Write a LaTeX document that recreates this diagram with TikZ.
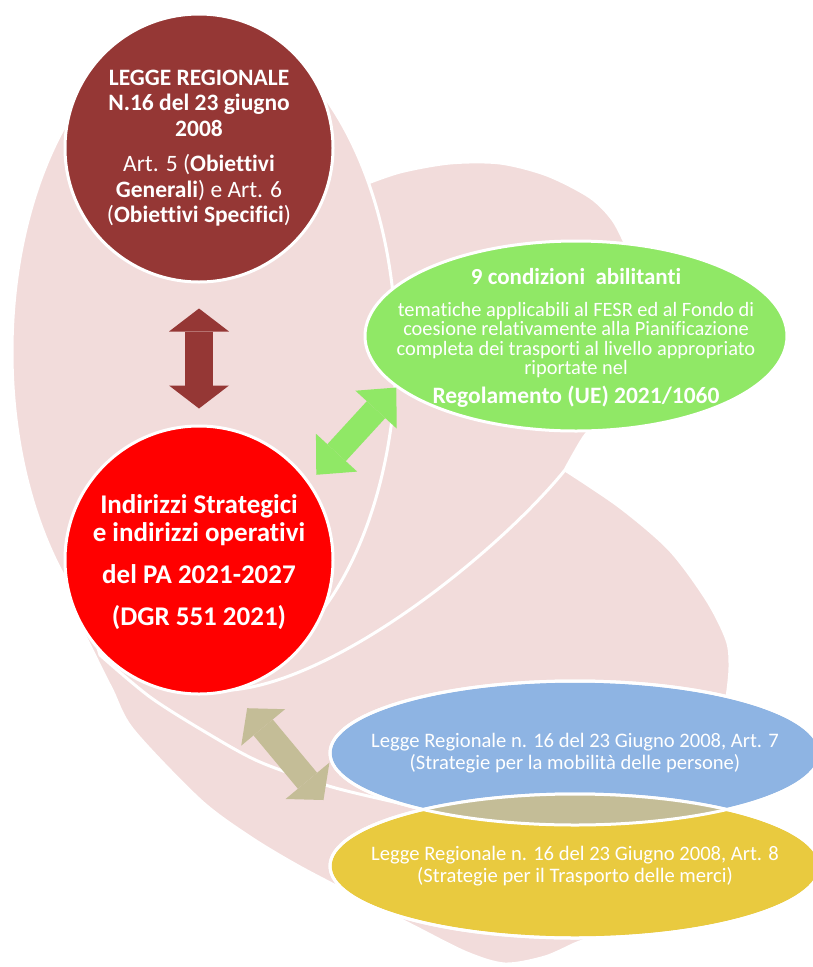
\documentclass[tikz,border=0pt]{standalone}
\usepackage{fontspec}
\setmainfont{Carlito}[Ligatures={NoCommon}]
\usetikzlibrary{arrows.meta}
\usetikzlibrary{shapes}
\usetikzlibrary{calc}

\definecolor{rosa}{HTML}{F2DCDB}
\definecolor{bordeaux}{HTML}{953735}
\definecolor{rosso}{HTML}{FF0000}
\definecolor{verde}{HTML}{90E866}
\definecolor{azzurro}{HTML}{8EB4E3}
\definecolor{giallo}{HTML}{E9CA3F}
\definecolor{sabbia}{HTML}{C4BD97}

\begin{document}
\begin{tikzpicture}[x=1pt,y=-1pt,
  petalo/.style={fill=rosa,draw=white,line width=3pt,line join=round},
  tondo/.style={circle,minimum size=268pt,inner sep=0pt,draw=white,line width=3pt},
  ovale/.style={ellipse,inner sep=0pt,draw=white,line width=3pt},
  legge/.style={ovale,minimum width=490pt,minimum height=144pt},
  testo/.style={text=white,align=center,inner sep=0pt},
  frecciarossa/.style={draw=bordeaux,line width=28pt,{Triangle[width=60pt,length=23pt,line width=0pt]}-{Triangle[width=60pt,length=23pt,line width=0pt]}},
  frecciaverde/.style={draw=verde,line width=25pt,{Triangle[width=56pt,length=30pt,line width=0pt]}-{Triangle[width=56pt,length=30pt,line width=0pt]}},
  frecciasabbia/.style={draw=sabbia,line width=25pt,{Triangle[width=57pt,length=25pt,line width=0pt]}-{Triangle[width=57pt,length=25pt,line width=0pt]}}]
\fill[white] (0,0) rectangle (813,967);
\useasboundingbox (0,0) rectangle (813,967);

\filldraw[petalo] plot[smooth] coordinates {(565,470) (620,507) (670,550) (707,600) (727,640) (730,667) (727,697) (722,720)}
  -- (700,805) -- (620,860) -- (480,872) -- (400,848) -- (330,812) -- (200,762) -- (130,712) -- (105,668)
  -- (125,625) -- (330,560) -- (420,520) -- (520,488) -- cycle;
\filldraw[petalo] plot[smooth] coordinates {(100,655) (150,697) (207,733) (260,762) (332,787) (415,807) (480,825)}
  -- (560,850) -- (630,900)
  -- plot[smooth] coordinates {(600,935) (577,943) (545,957) (505,964) (467,953) (417,928) (367,902) (300,867) (250,837) (200,800) (133,730) (112,690) (93,652) (75,615) (68,590)}
  -- (90,620) -- cycle;
\filldraw[petalo] plot[smooth] coordinates {(360,186) (400,172) (450,163) (500,163) (547,175) (590,197) (613,220) (628,250) (640,285)}
  -- (640,380)
  -- plot[smooth] coordinates {(600,420) (584,437) (565,470)}
  .. controls (500,550) and (340,680) .. (232,690)
  -- (190,680) -- (200,560) -- (300,300) -- cycle;
\filldraw[petalo] (204,352) ellipse (192 and 328);

\node[tondo,fill=bordeaux] (legge) at (199,148) {};
\node[testo,font=\fontsize{23.5}{25.5}\selectfont] at (legge)
  {\textbf{LEGGE REGIONALE}\\ \textbf{N.16 del 23 giugno}\\ \textbf{2008}\\[10pt]
   Art. 5 (\textbf{Obiettivi}\\ \textbf{Generali}) e Art. 6\\ (\textbf{Obiettivi Specifici})};
\node[tondo,fill=rosso] (indirizzi) at (199,560) {};
\node[testo,font=\bfseries\fontsize{27}{28}\selectfont] at ([yshift=-2pt]indirizzi)
  {Indirizzi Strategici\\ e indirizzi operativi\\[14pt] del PA 2021-2027\\[14pt] (DGR 551 2021)};
\node[ovale,fill=verde,minimum width=422pt,minimum height=190pt] (condizioni) at (576,336) {};
\node[testo,font=\fontsize{20.4}{19.5}\selectfont] at ([yshift=-2pt]condizioni)
  {{\fontsize{23}{25}\selectfont\bfseries 9 condizioni~ abilitanti}\\[12pt]
   tematiche applicabili al FESR ed al Fondo di\\ coesione relativamente alla Pianificazione\\
   completa dei trasporti al livello appropriato\\ riportate nel\\[7pt]
   {\fontsize{23.5}{25}\selectfont\bfseries Regolamento (UE) 2021/1060}};

\node[legge,fill=azzurro] (art7) at (575,753) {};
\node[legge,fill=giallo] (art8) at (575,866) {};
\begin{scope}
\clip (art7.center) ellipse (245 and 72);
\fill[sabbia] (art8.center) ellipse (245 and 72);
\end{scope}
\foreach \n in {art7,art8}
{
\draw[white,line width=3pt] (\n.center) ellipse (245 and 72);
}
\node[testo,font=\fontsize{20.6}{22}\selectfont] at (art7)
  {Legge Regionale n. 16 del 23 Giugno 2008, Art. 7\\ (Strategie per la mobilità delle persone)};
\node[testo,font=\fontsize{20.6}{22}\selectfont] at (art8)
  {Legge Regionale n. 16 del 23 Giugno 2008, Art. 8\\ (Strategie per il Trasporto delle merci)};

\draw[frecciarossa] ([yshift=-25pt]legge.south) -- ([yshift=16pt]indirizzi.north);
\draw[frecciaverde] ($(indirizzi.center)!1.07!(indirizzi.36)$) -- (condizioni.196);
\draw[frecciasabbia] ($(indirizzi.center)!1.15!(indirizzi.-72)$) -- ([shift={(-5,47)}]art7.west);

\end{tikzpicture}
\end{document}
